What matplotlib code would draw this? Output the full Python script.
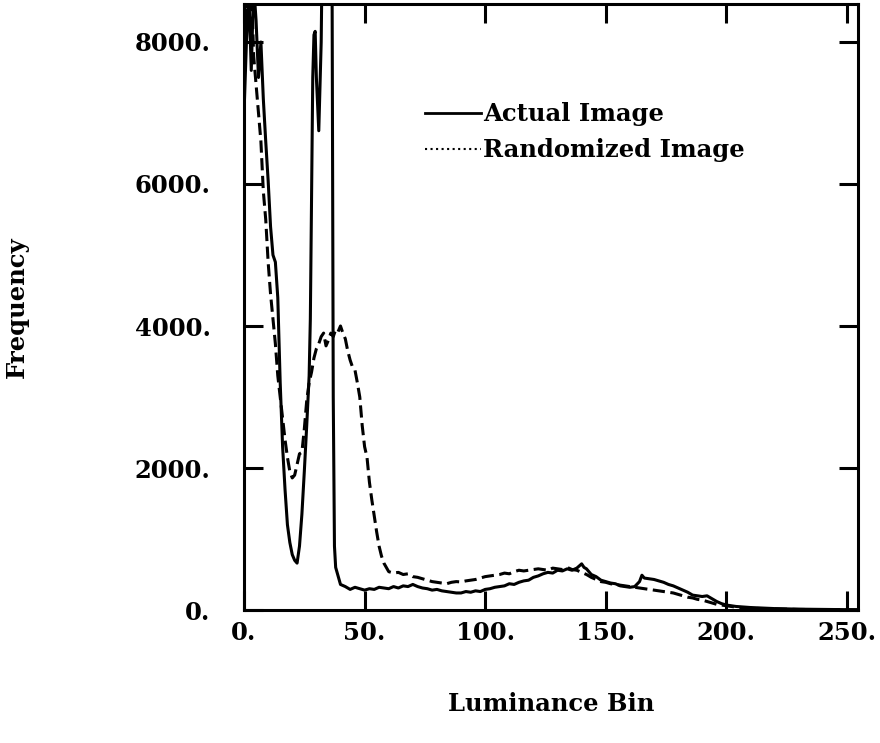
import matplotlib
matplotlib.use('Agg')
import matplotlib.pyplot as plt
from matplotlib.lines import Line2D

# luminance histogram values
actual_bins = [0, 1, 2, 3, 4, 5, 6, 7, 8, 9, 10, 11, 12, 13, 14, 15, 16, 17, 18, 19,
               20, 21, 22, 23, 24, 25, 26, 27, 27.5, 28, 28.5, 29, 29.5, 30, 31, 32, 33,
               34, 35, 36, 36.5, 37, 37.5, 38, 40, 42, 44, 46, 48, 50, 52, 54, 56, 58,
               60, 62, 64, 66, 68, 70, 72, 74, 76, 78, 80, 82, 84, 86, 88, 90, 92, 94,
               96, 98, 100, 102, 104, 106, 108, 110, 112, 114, 116, 118, 120, 122, 124,
               126, 128, 130, 132, 134, 136, 138, 140, 141, 142, 144, 146, 148, 150, 152,
               154, 156, 158, 160, 162, 164, 165, 166, 168, 170, 172, 174, 176, 178, 180,
               182, 184, 186, 188, 190, 192, 194, 196, 198, 200, 204, 210, 220, 230, 240,
               250, 255]
actual_freq = [7000, 8000, 8700, 7600, 8800, 8300, 7500, 8000, 7200, 6600, 6050, 5400,
               5000, 4900, 4400, 3200, 2300, 1700, 1200, 950, 780, 700, 660, 900, 1350,
               1950, 2600, 3300, 4100, 5800, 7500, 8100, 8150, 7500, 6750, 8000, 11000,
               14000, 16000, 12000, 9000, 3000, 900, 600, 360, 330, 290, 320, 300, 280,
               300, 290, 320, 310, 300, 330, 310, 340, 330, 360, 330, 310, 300, 280, 290,
               270, 260, 250, 240, 240, 260, 250, 270, 260, 290, 300, 320, 330, 340, 370,
               360, 390, 410, 420, 460, 480, 510, 530, 520, 560, 550, 580, 560, 590, 650,
               600, 580, 500, 470, 420, 400, 380, 370, 340, 330, 320, 330, 400, 490, 450,
               440, 430, 410, 390, 360, 340, 310, 280, 250, 210, 200, 190, 200, 160, 120,
               90, 70, 50, 35, 20, 12, 8, 5, 3]

random_bins = [0, 1, 2, 3, 4, 5, 6, 7, 8, 9, 10, 11, 12, 13, 14, 15, 16, 17, 18, 19,
               20, 21, 22, 23, 24, 25, 26, 27, 28, 29, 30, 31, 32, 33, 34, 35, 36, 37,
               38, 39, 40, 41, 42, 43, 44, 45, 46, 47, 48, 49, 50, 51, 52, 53, 54, 55,
               56, 57, 58, 59, 60, 62, 64, 66, 68, 70, 72, 74, 76, 78, 80, 82, 84, 86,
               88, 90, 92, 94, 96, 98, 100, 102, 104, 106, 108, 110, 112, 114, 116, 118,
               120, 122, 124, 126, 128, 130, 132, 134, 136, 138, 140, 142, 144, 146, 148,
               150, 152, 154, 156, 158, 160, 162, 164, 166, 168, 170, 172, 174, 176, 178,
               180, 182, 184, 186, 188, 190, 192, 194, 196, 198, 200, 204, 210, 220, 230,
               240, 250, 255]
random_freq = [7800, 8600, 8300, 8900, 7800, 7400, 7000, 6600, 5900, 5500, 4900, 4450,
               4100, 3750, 3300, 3000, 2700, 2400, 2150, 1950, 1860, 1900, 2050, 2200,
               2220, 2550, 2950, 3200, 3350, 3550, 3680, 3750, 3850, 3900, 3720, 3800,
               3900, 3850, 3950, 3920, 4000, 3900, 3820, 3650, 3520, 3420, 3380, 3200,
               3000, 2600, 2300, 2150, 1800, 1550, 1320, 1100, 900, 760, 660, 600, 540,
               520, 530, 500, 510, 470, 460, 440, 420, 400, 390, 380, 370, 390, 400, 395,
               410, 420, 430, 450, 470, 480, 490, 500, 520, 510, 540, 560, 550, 560, 570,
               580, 570, 560, 590, 580, 570, 600, 570, 560, 530, 500, 460, 430, 400, 390,
               370, 360, 350, 340, 330, 320, 310, 300, 290, 280, 270, 260, 250, 240, 220,
               200, 180, 170, 150, 140, 120, 100, 80, 70, 60, 40, 25, 15, 8, 5, 3, 2]

x_ticks = [0, 50, 100, 150, 200, 250]
y_ticks = [0, 2000, 4000, 6000, 8000]

font = {'family': 'DejaVu Serif', 'weight': 'bold', 'size': 17.5}

fig = plt.figure(figsize=(8.8, 7.43), dpi=100)
ax = fig.add_axes([0.2773, 0.179, 0.6977, 0.8156])

ax.plot(actual_bins, actual_freq, color='black', lw=2.2, solid_joinstyle='round')
ax.plot(random_bins, random_freq, color='black', lw=2.2, dashes=(4, 1.8))

ax.set_xlim(0, 254.6)
ax.set_ylim(0, 8535)

ax.set_xticks(x_ticks)
ax.set_xticklabels([f'{t}.' for t in x_ticks], fontdict=font)
ax.set_yticks(y_ticks)
ax.set_yticklabels([f'{t}.' for t in y_ticks], fontdict=font)
ax.tick_params(direction='in', length=14, width=2.2, top=True, right=True)
ax.tick_params(axis='x', pad=8)
ax.tick_params(axis='y', pad=24)
for sp in ax.spines.values():
    sp.set_linewidth(2.2)

ax.set_xlabel('Luminance Bin', fontdict=font, labelpad=34)
ax.set_ylabel('Frequency', fontdict=font, labelpad=76)

handles = [Line2D([], [], color='black', lw=2),
           Line2D([], [], color='black', lw=1.5, ls=':')]
ax.legend(handles, ['Actual Image', 'Randomized Image'], loc='upper left',
          bbox_to_anchor=(0.295, 0.838), frameon=False, handlelength=2.3,
          handletextpad=0.1, labelspacing=0.5, borderpad=0, borderaxespad=0,
          prop=font)

fig.savefig('out.png', dpi=100)
